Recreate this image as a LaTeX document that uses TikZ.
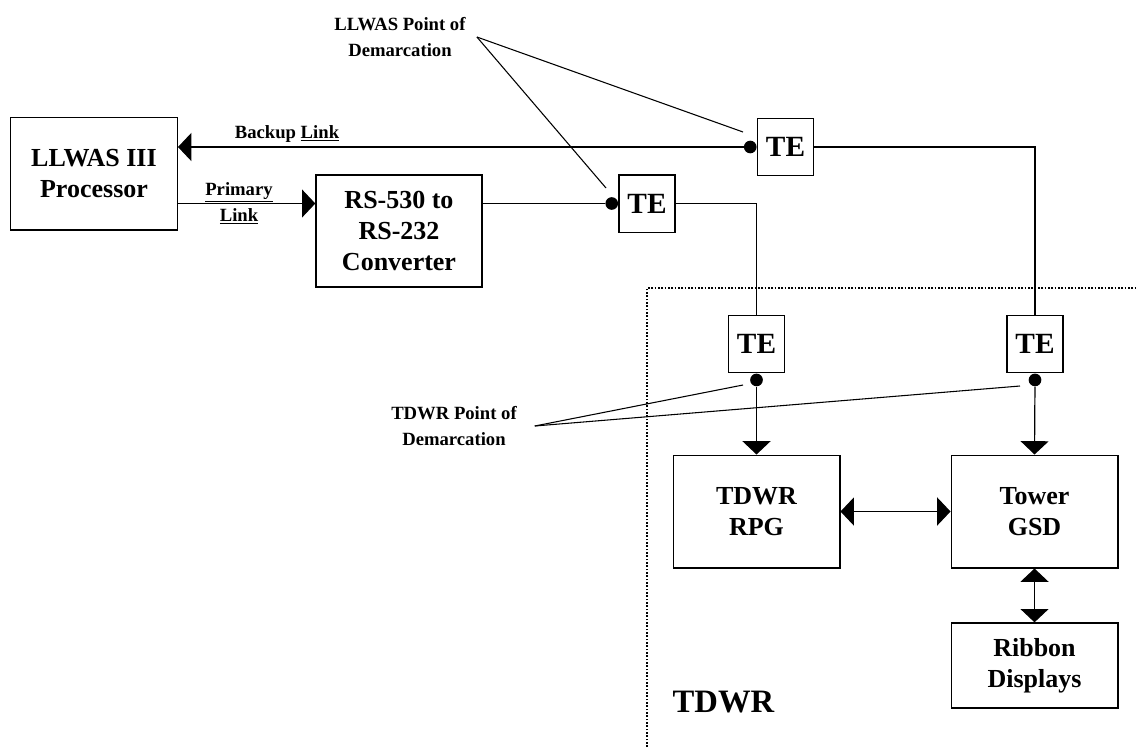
\documentclass[tikz,border=0pt]{standalone}
\usepackage{fontspec}
\setmainfont{Liberation Serif}
\usetikzlibrary{arrows.meta, positioning}
\tikzset{
  box/.style={rectangle, draw, line width=1pt, align=center, font=\fontsize{19.5}{23.5}\selectfont\bfseries, minimum width=125pt, minimum height=84.5pt, inner sep=2pt},
  tebox/.style={rectangle, draw, line width=1pt, font=\fontsize{22}{22}\selectfont\bfseries, minimum width=42pt, minimum height=43pt, inner sep=0pt},
  dot/.style={circle, fill, inner sep=0pt, minimum size=9.5pt},
  link/.style={line width=0.9pt},
  arrow/.style={link, -{Triangle[length=10pt, width=21pt]}},
  dblarrow/.style={link, {Triangle[length=10pt, width=21pt]}-{Triangle[length=10pt, width=21pt]}},
  note/.style={align=center, font=\fontsize{14}{19.5}\selectfont\bfseries},
  leader/.style={line width=0.8pt},
  region/.style={line width=0.9pt, dash pattern=on 1.2pt off 1.3pt},
}

\begin{document}
\begin{tikzpicture}[x=0.75pt, y=-0.75pt]
  \useasboundingbox (0,0) rectangle (1137,747);
  % LLWAS side
  \node[box] (llwas) at (94,173.5) {LLWAS III\\Processor};
  \node[box, minimum width=124.5pt, minimum height=84pt] (conv) at (399,231) {RS-530 to\\RS-232\\Converter};
  \node[tebox] (te1) at (647,203.5) {TE};
  \node[tebox] (te2) at (785.5,147) {TE};
  \node[dot, left=0pt of te1] (d1) {};
  \node[dot, left=0pt of te2] (d2) {};
  % TDWR side
  \draw[region] (647,747) -- (647,288) -- (1137,288);
  \node[tebox] (te3) at (756.5,344) {TE};
  \node[tebox] (te4) at (1035,344) {TE};
  \node[dot, below=0pt of te3] (d3) {};
  \node[dot, below=0pt of te4] (d4) {};
  \node[box] (rpg) at (756.5,511.5) {TDWR\\RPG};
  \node[box] (gsd) at (1034.5,511.5) {Tower\\GSD};
  \node[box, minimum height=63.75pt] (ribbon) at (1034.5,665.5) {Ribbon\\Displays};
  \node[font=\fontsize{24.5}{24.5}\selectfont\bfseries] (tdwr) at (723.5,702) {TDWR};
  % links
  \draw[arrow] (d2) -- (d2 -| llwas.east);
  \draw[arrow] (d1 -| llwas.east) -- (d1 -| conv.west);
  \draw[link] (d1 -| conv.east) -- (d1);
  \draw[link] (te1.east) -| (te3.north);
  \draw[link] (te2.east) -| (te4.north);
  \draw[arrow] (d3) -- (rpg.north);
  \draw[arrow] (d4) -- (gsd.north);
  \draw[dblarrow] (rpg) -- (gsd);
  \draw[dblarrow] (gsd) -- (ribbon);
  \node[note, anchor=base] (backup) at (287,138) {Backup \underline{Link}};
  \node[note] (primary) at (239,203) {\underline{Primary}\\\underline{Link}};
  % points of demarcation
  \node[note] (llwasdem) at (400,37) {LLWAS Point of\\Demarcation};
  \node[note] (tdwrdem) at (454,426) {TDWR Point of\\Demarcation};
  \coordinate (p1) at (606,188);
  \coordinate (p2) at (743,132);
  \coordinate (p3) at (743,385);
  \coordinate (p4) at (1020,386);
  \draw[leader] ([xshift=5pt]llwasdem.east) -- (p1);
  \draw[leader] ([xshift=5pt]llwasdem.east) -- (p2);
  \draw[leader] ([xshift=10pt]tdwrdem.east) -- (p3);
  \draw[leader] ([xshift=10pt]tdwrdem.east) -- (p4);
\end{tikzpicture}
\end{document}
